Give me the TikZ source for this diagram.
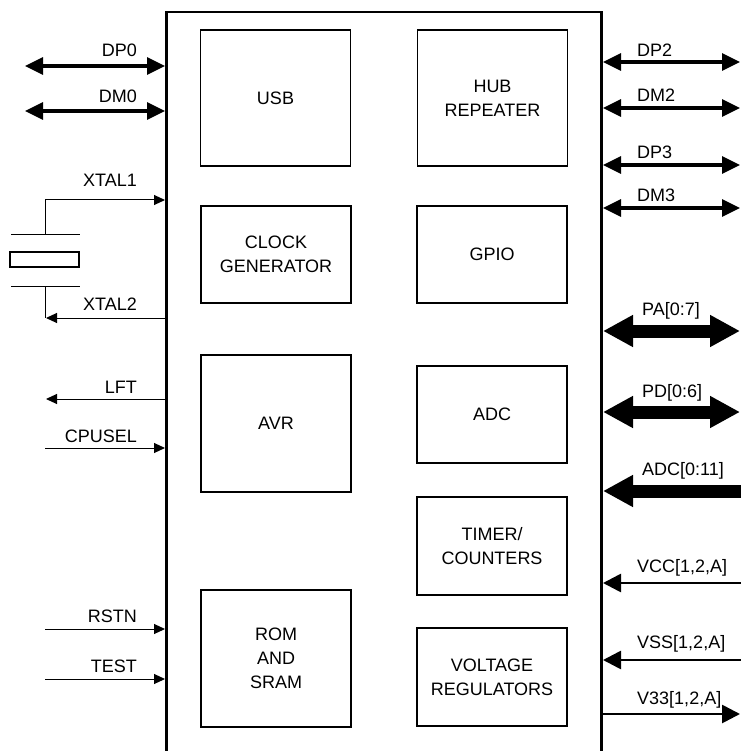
\documentclass[tikz,border=0pt]{standalone}
\usepackage{fontspec}
\setmainfont{Liberation Sans}
\usetikzlibrary{arrows.meta}
\begin{document}
\begin{tikzpicture}[x=1pt,y=-1pt,
  blk/.style={draw, line width=1.3pt, minimum width=150pt, inner sep=0pt, align=center, font=\fontsize{18}{24}\selectfont},
  lbl/.style={inner sep=0pt, font=\fontsize{18}{22}\selectfont},
  lblL/.style={lbl, anchor=base east},
  lblR/.style={lbl, anchor=base west},
  sig/.style={line width=1pt, -{Triangle[length=11pt,width=10pt]}},
  bus/.style={line width=3.3pt, {Triangle[length=18pt,width=17pt]}-{Triangle[length=18pt,width=17pt]}},
  wbus/.style={line width=13pt, {Triangle[length=30pt,width=30pt]}-{Triangle[length=30pt,width=30pt]}},
  inbus/.style={line width=13pt, {Triangle[length=30pt,width=30pt]}-},
  pwrin/.style={line width=2.7pt, {Triangle[length=18pt,width=18pt]}-},
  pwrout/.style={line width=2.7pt, -{Triangle[length=18pt,width=18pt]}},
  thinline/.style={line width=1pt},
  chipline/.style={line width=2.5pt}]
\useasboundingbox (0,0) rectangle (740,751);

% chip outline
\coordinate (chipBL) at (166.5,752);
\coordinate (chipTL) at (166.5,12);
\coordinate (chipTR) at (601.5,12);
\coordinate (chipBR) at (601.5,752);
\draw[chipline] (chipBL) -- (chipTL) -- (chipTR) -- (chipBR);

% blocks
\node[blk, minimum height=136pt] (usb) at (275.5,98) {USB};
\node[blk, minimum height=97pt] (clk) at (276,254.5) {CLOCK\\GENERATOR};
\node[blk, minimum height=137pt] (avr) at (276,423.5) {AVR};
\node[blk, minimum height=137pt] (rom) at (276,658.5) {ROM\\AND\\SRAM};
\node[blk, minimum height=136pt] (hub) at (492.5,98) {HUB\\REPEATER};
\node[blk, minimum height=97pt] (gpio) at (492,254.5) {GPIO};
\node[blk, minimum height=97pt] (adc) at (492,414.5) {ADC};
\node[blk, minimum height=98pt] (tim) at (492,546) {TIMER/\\COUNTERS};
\node[blk, minimum height=98pt] (vreg) at (492,677) {VOLTAGE\\REGULATORS};

% left side
\coordinate (dp0a) at (25,66);  \coordinate (dp0b) at (165,66);
\coordinate (dm0a) at (25,111); \coordinate (dm0b) at (165,111);
\draw[bus] (dp0a) -- (dp0b);
\draw[bus] (dm0a) -- (dm0b);
\node[lblL] (tdp0) at (137,57) {DP0};
\node[lblL] (tdm0) at (137,103) {DM0};

% crystal
\coordinate (x1a) at (45,234); \coordinate (x1b) at (165,200);
\draw[sig] (x1a) |- (x1b);
\coordinate (pt1) at (11,234); \coordinate (pt2) at (80,234);
\coordinate (pb1) at (11,286); \coordinate (pb2) at (80,286);
\draw[thinline] (pt1) -- (pt2);
\draw[thinline] (pb1) -- (pb2);
\node[draw, line width=2.5pt, minimum width=69pt, minimum height=15pt, inner sep=0pt] (xtal) at (44.5,259.5) {};
\coordinate (x2a) at (45,286); \coordinate (x2c) at (45,318);
\coordinate (x2b) at (165,318); \coordinate (x2t) at (46,318);
\draw[thinline] (x2a) -- (x2c);
\draw[sig] (x2b) -- (x2t);
\node[lblL] (txt1) at (137,187) {XTAL1};
\node[lblL] (txt2) at (137,310) {XTAL2};

\coordinate (lfta) at (165,399); \coordinate (lftb) at (46,399);
\draw[sig] (lfta) -- (lftb);
\node[lblL] (tlft) at (137,393) {LFT};
\coordinate (cpa) at (45,448); \coordinate (cpb) at (165,448);
\draw[sig] (cpa) -- (cpb);
\node[lblL] (tcp) at (137,442) {CPUSEL};
\coordinate (rsa) at (45,629); \coordinate (rsb) at (165,629);
\draw[sig] (rsa) -- (rsb);
\node[lblL] (trs) at (137,622) {RSTN};
\coordinate (tsa) at (45,679); \coordinate (tsb) at (165,679);
\draw[sig] (tsa) -- (tsb);
\node[lblL] (tts) at (137,672) {TEST};

% right side
\coordinate (dp2a) at (603,62);  \coordinate (dp2b) at (740,62);
\coordinate (dm2a) at (603,108); \coordinate (dm2b) at (740,108);
\coordinate (dp3a) at (603,165); \coordinate (dp3b) at (740,165);
\coordinate (dm3a) at (603,208); \coordinate (dm3b) at (740,208);
\draw[bus] (dp2a) -- (dp2b);
\draw[bus] (dm2a) -- (dm2b);
\draw[bus] (dp3a) -- (dp3b);
\draw[bus] (dm3a) -- (dm3b);
\node[lblR] (tdp2) at (637,57) {DP2};
\node[lblR] (tdm2) at (637,102) {DM2};
\node[lblR] (tdp3) at (637,159) {DP3};
\node[lblR] (tdm3) at (637,202) {DM3};

\coordinate (paa) at (603,331); \coordinate (pab) at (740,331);
\coordinate (pda) at (603,412); \coordinate (pdb) at (740,412);
\coordinate (ada) at (603,491); \coordinate (adb) at (741,491);
\draw[wbus] (paa) -- (pab);
\draw[wbus] (pda) -- (pdb);
\draw[inbus] (ada) -- (adb);
\node[lblR] (tpa) at (642,315) {PA[0:7]};
\node[lblR] (tpd) at (642,397) {PD[0:6]};
\node[lblR] (tad) at (642,475) {ADC[0:11]};

\coordinate (vca) at (603,583); \coordinate (vcb) at (741,583);
\coordinate (vsa) at (603,660); \coordinate (vsb) at (741,660);
\coordinate (v3a) at (602,714); \coordinate (v3b) at (740,714);
\draw[pwrin] (vca) -- (vcb);
\draw[pwrin] (vsa) -- (vsb);
\draw[pwrout] (v3a) -- (v3b);
\node[lblR] (tvc) at (637,572) {VCC[1,2,A]};
\node[lblR] (tvs) at (637,648) {VSS[1,2,A]};
\node[lblR] (tv3) at (637,704) {V33[1,2,A]};
\end{tikzpicture}
\end{document}
